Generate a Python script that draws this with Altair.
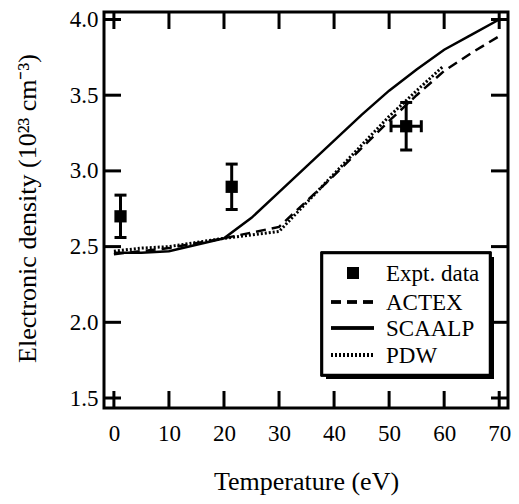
import altair as alt
import pandas as pd

FONT = "Liberation Serif"

# ---- data ----
t_actex = [0, 5, 10, 20, 30, 35, 40, 45, 50, 55, 60, 65, 70]
n_actex = [2.45, 2.47, 2.49, 2.555, 2.63, 2.80, 2.97, 3.15, 3.33, 3.50, 3.66, 3.78, 3.89]

t_scaalp = [0, 5, 10, 20, 25, 30, 35, 40, 45, 50, 55, 60, 65, 70]
n_scaalp = [2.46, 2.46, 2.47, 2.555, 2.69, 2.86, 3.03, 3.20, 3.37, 3.53, 3.67, 3.80, 3.90, 4.00]

t_pdw = [0, 5, 10, 20, 30, 35, 40, 45, 50, 55, 59.8]
n_pdw = [2.47, 2.49, 2.50, 2.555, 2.60, 2.79, 2.98, 3.17, 3.36, 3.53, 3.69]

t_exp = [1.2, 21.4, 53.1]
n_exp = [2.70, 2.895, 3.295]
n_err = [0.14, 0.15, 0.157]
t_err = [0.0, 0.0, 2.75]

x_ticks = [0, 10, 20, 30, 40, 50, 60, 70]
y_ticks = [1.5, 2.0, 2.5, 3.0, 3.5, 4.0]

legend_labels = ["Expt. data", "ACTEX", "SCAALP", "PDW"]

# ---- geometry ----
W, H = 404, 396
xs = alt.Scale(domain=[-1.8, 71.6], nice=False, zero=False)
ys = alt.Scale(domain=[1.434, 4.0495], nice=False, zero=False)

xaxis = alt.Axis(values=x_ticks, format="d", grid=False, domain=False, ticks=False, tickSize=0,
                 labelFont=FONT, labelFontSize=23, labelColor="black", labelPadding=14,
                 labelFlush=False,
                 titleFont=FONT, titleFontSize=26, titleFontWeight="normal", titleColor="black",
                 titleX=202, titleY=81, titleBaseline="alphabetic", titleAlign="center")
yaxis = alt.Axis(values=y_ticks, format=".1f", grid=False, domain=False, ticks=False, tickSize=0,
                 labelFont=FONT, labelFontSize=23, labelColor="black", labelPadding=6,
                 labelFlush=False,
                 titleFont=FONT, titleFontSize=26, titleFontWeight="normal", titleColor="black",
                 titleX=-69, titleY=196, titleBaseline="alphabetic", titleAlign="center", titleAngle=-90)

XT = "Temperature (eV)"
YT = "Electronic density (10²³ cm⁻³)"


def X(f):
    return alt.X(f, type="quantitative", scale=xs, axis=xaxis, title=XT)


def Y(f):
    return alt.Y(f, type="quantitative", scale=ys, axis=yaxis, title=YT)


df_actex = pd.DataFrame({"T": t_actex, "n": n_actex})
df_scaalp = pd.DataFrame({"T": t_scaalp, "n": n_scaalp})
df_pdw = pd.DataFrame({"T": t_pdw, "n": n_pdw})
df_exp = pd.DataFrame({"T": t_exp, "n": n_exp,
                       "lo": [a - b for a, b in zip(n_exp, n_err)],
                       "hi": [a + b for a, b in zip(n_exp, n_err)],
                       "tlo": [a - b for a, b in zip(t_exp, t_err)],
                       "thi": [a + b for a, b in zip(t_exp, t_err)]})
df_exp_x = df_exp[df_exp["thi"] > df_exp["tlo"]]
df_xt = pd.DataFrame({"v": x_ticks})
df_yt = pd.DataFrame({"v": y_ticks})

line_scaalp = alt.Chart(df_scaalp).mark_line(color="black", strokeWidth=2.5).encode(x=X("T"), y=Y("n"))
line_actex = alt.Chart(df_actex).mark_line(color="black", strokeWidth=2.5, strokeDash=[10, 6]).encode(x=X("T"), y=Y("n"))
line_pdw = alt.Chart(df_pdw).mark_line(color="black", strokeWidth=3, strokeDash=[2, 2]).encode(x=X("T"), y=Y("n"))

ebar = alt.Chart(df_exp).mark_rule(color="black", strokeWidth=3).encode(x=X("T"), y=Y("lo"), y2="hi")
cap_lo = alt.Chart(df_exp).mark_tick(color="black", orient="horizontal", size=12, thickness=3, opacity=1).encode(x=X("T"), y=Y("lo"))
cap_hi = alt.Chart(df_exp).mark_tick(color="black", orient="horizontal", size=12, thickness=3, opacity=1).encode(x=X("T"), y=Y("hi"))
xbar = alt.Chart(df_exp_x).mark_rule(color="black", strokeWidth=3).encode(x=X("tlo"), x2="thi", y=Y("n"))
xcap_lo = alt.Chart(df_exp_x).mark_tick(color="black", orient="vertical", size=12, thickness=3, opacity=1).encode(x=X("tlo"), y=Y("n"))
xcap_hi = alt.Chart(df_exp_x).mark_tick(color="black", orient="vertical", size=12, thickness=3, opacity=1).encode(x=X("thi"), y=Y("n"))
squares = alt.Chart(df_exp).mark_square(color="black", size=150, opacity=1, filled=True).encode(x=X("T"), y=Y("n"))

# inner ticks on all four sides
TL = 17
tick_b = alt.Chart(df_xt).mark_rule(color="black", strokeWidth=3).encode(x=X("v"), y=alt.value(H), y2=alt.value(H - TL))
tick_t = alt.Chart(df_xt).mark_rule(color="black", strokeWidth=3).encode(x=X("v"), y=alt.value(0), y2=alt.value(TL))
tick_l = alt.Chart(df_yt).mark_rule(color="black", strokeWidth=3).encode(y=Y("v"), x=alt.value(0), x2=alt.value(TL))
tick_r = alt.Chart(df_yt).mark_rule(color="black", strokeWidth=3).encode(y=Y("v"), x=alt.value(W), x2=alt.value(W - TL))

# legend box
LX0, LX1, LY0, LY1 = 218, 386, 241, 363
leg_shadow = alt.Chart(df_xt).mark_rect(color="black").encode(
    x=alt.value(LX0 + 4), x2=alt.value(LX1 + 4), y=alt.value(LY0 + 4), y2=alt.value(LY1 + 4))
leg_box = alt.Chart(df_xt).mark_rect(fill="white", stroke="black", strokeWidth=2.5).encode(
    x=alt.value(LX0), x2=alt.value(LX1), y=alt.value(LY0), y2=alt.value(LY1))

row_y = [261, 290, 316, 343]
SX0, SX1 = 227, 270
leg_sq = alt.Chart(df_xt).mark_square(color="black", size=140, opacity=1).encode(
    x=alt.value(249), y=alt.value(row_y[0]))
leg_actex = alt.Chart(df_xt).mark_rule(color="black", strokeWidth=2.5, strokeDash=[10, 6]).encode(
    x=alt.value(SX0), x2=alt.value(SX1), y=alt.value(row_y[1]))
leg_scaalp = alt.Chart(df_xt).mark_rule(color="black", strokeWidth=2.5).encode(
    x=alt.value(SX0), x2=alt.value(SX1), y=alt.value(row_y[2]))
leg_pdw = alt.Chart(df_xt).mark_rule(color="black", strokeWidth=3, strokeDash=[2, 2]).encode(
    x=alt.value(SX0), x2=alt.value(SX1), y=alt.value(row_y[3]))

leg_texts = []
for i, lab in enumerate(legend_labels):
    leg_texts.append(
        alt.Chart(pd.DataFrame({"label": [lab]})).mark_text(
            font=FONT, fontSize=23, color="black", align="left", baseline="alphabetic"
        ).encode(x=alt.value(282), y=alt.value(row_y[i] + 8), text="label:N")
    )

chart = alt.layer(
    tick_b, tick_t, tick_l, tick_r,
    line_actex, line_pdw, line_scaalp,
    ebar, cap_lo, cap_hi, xbar, xcap_lo, xcap_hi, squares,
    leg_shadow, leg_box, leg_sq, leg_actex, leg_scaalp, leg_pdw, *leg_texts,
).properties(
    width=W, height=H,
    autosize=alt.AutoSizeParams(type="none"),
    padding={"left": 96, "top": 4, "right": 3, "bottom": 88},
    background="white",
).configure_view(stroke="black", strokeWidth=3)

chart.save("out.html", embed_options={"renderer": "svg", "actions": False})
